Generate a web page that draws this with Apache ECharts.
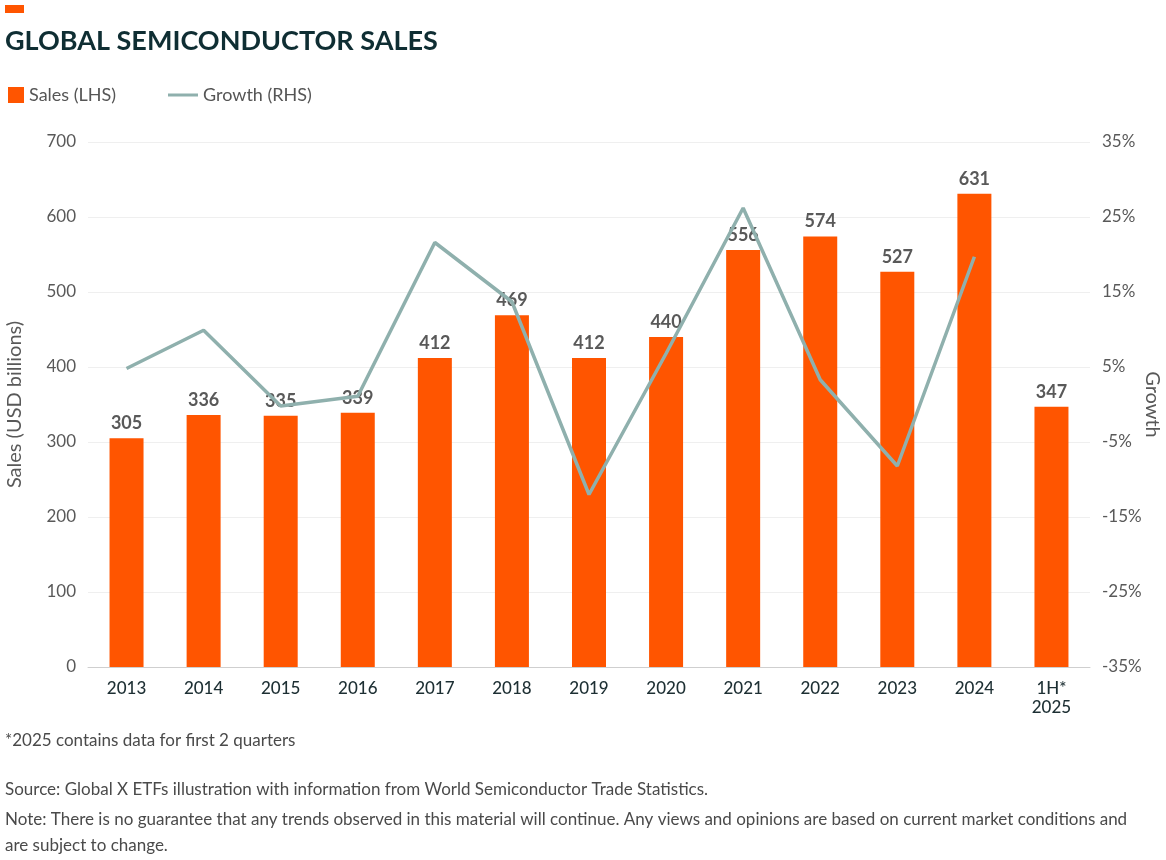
<!DOCTYPE html>
<html>
<head>
<meta charset="utf-8">
<script src="https://cdn.jsdelivr.net/npm/echarts@6/dist/echarts.min.js"></script>
<style>
html,body{margin:0;padding:0;background:#fff;}
#chart{width:1166px;height:860px;}
</style>
</head>
<body>
<div id="chart"></div>
<script>
const categories = ['2013','2014','2015','2016','2017','2018','2019','2020','2021','2022','2023','2024','1H*\n2025'];
const sales = [305, 336, 335, 339, 412, 469, 412, 440, 556, 574, 527, 631, 347];
const growth = [4.8, 9.9, -0.2, 1.1, 21.6, 13.7, -12.0, 6.8, 26.2, 3.3, -8.2, 19.7, null];
const salesTicks = [0, 100, 200, 300, 400, 500, 600, 700];
const growthTicks = [-35, -25, -15, -5, 5, 15, 25, 35];

const FONT = 'Lato, "Open Sans", sans-serif';
const chart = echarts.init(document.getElementById('chart'));
chart.setOption({
  animation: false,
  backgroundColor: '#fff',
  textStyle: { fontFamily: FONT },
  title: {
    text: 'GLOBAL SEMICONDUCTOR SALES',
    left: 0, top: 23,
    textStyle: { fontFamily: FONT, fontSize: 27, fontWeight: 'bold', color: '#0f2e33' }
  },
  graphic: [
    { type: 'rect', left: 5, top: 5, shape: { width: 19, height: 8 }, style: { fill: '#ff5500' } },
    { type: 'text', left: 5, top: 732, style: { text: '*2025 contains data for first 2 quarters', fill: '#4a4a4a', font: '17px ' + FONT } },
    { type: 'text', left: 5, top: 781, style: { text: 'Source: Global X ETFs illustration with information from World Semiconductor Trade Statistics.', fill: '#4a4a4a', font: '17px ' + FONT } },
    { type: 'text', left: 5, top: 807, style: { text: 'Note: There is no guarantee that any trends observed in this material will continue. Any views and opinions are based on current market conditions and\nare subject to change.', fill: '#4a4a4a', font: '17px ' + FONT, lineHeight: 26 } }
  ],
  legend: [
    {
      left: 3, top: 81,
      textStyle: { fontFamily: FONT, fontSize: 18, color: '#555' },
      data: [{ name: 'Sales (LHS)', icon: 'rect', itemStyle: { color: '#ff5500' } }],
      itemWidth: 16, itemHeight: 16, itemGap: 10
    },
    {
      left: 163, top: 81,
      textStyle: { fontFamily: FONT, fontSize: 18, color: '#555' },
      data: [{ name: 'Growth (RHS)', icon: 'rect', itemStyle: { color: '#8fb0ad' } }],
      itemWidth: 30, itemHeight: 3, itemGap: 10
    }
  ],
  grid: { left: 88, right: 76, top: 142, bottom: 193, outerBoundsMode: 'none', containLabel: false },
  xAxis: {
    type: 'category',
    data: categories,
    axisLine: { lineStyle: { color: '#cfcfcf', width: 1 } },
    axisTick: { show: false },
    axisLabel: { fontFamily: FONT, fontSize: 17, fontWeight: 500, color: '#1d2f33', margin: 12, lineHeight: 19 }
  },
  yAxis: [
    {
      type: 'value', min: 0, max: 700, interval: 100,
      name: 'Sales (USD billions)', nameLocation: 'middle', nameGap: 63, nameMoveOverlap: false,
      nameTextStyle: { fontFamily: FONT, fontSize: 20, color: '#595959' },
      axisLine: { show: false }, axisTick: { show: false },
      axisLabel: { fontFamily: FONT, fontSize: 17, color: '#595959', margin: 12 },
      splitLine: { lineStyle: { color: '#efefef', width: 1 } }
    },
    {
      type: 'value', min: growthTicks[0], max: growthTicks[growthTicks.length - 1], alignTicks: true,
      name: 'Growth', nameLocation: 'middle', nameGap: 62, nameRotate: -90, nameMoveOverlap: false,
      nameTextStyle: { fontFamily: FONT, fontSize: 20, color: '#595959', align: 'center', verticalAlign: 'middle' },
      axisLine: { show: false }, axisTick: { show: false },
      axisLabel: { fontFamily: FONT, fontSize: 17, color: '#595959', margin: 12, formatter: v => Math.round(v) + '%' },
      splitLine: { show: false }
    }
  ],
  series: [
    {
      name: 'Sales (LHS)', type: 'bar', yAxisIndex: 0, data: sales,
      barWidth: 34,
      itemStyle: { color: '#ff5500' },
      label: { show: true, position: 'top', distance: 6, fontFamily: FONT, fontSize: 18, fontWeight: 'bold', color: '#595959' }
    },
    {
      name: 'Growth (RHS)', type: 'line', yAxisIndex: 1, data: growth,
      symbol: 'none', z: 5,
      lineStyle: { color: '#8fb0ad', width: 3.5 },
      itemStyle: { color: '#8fb0ad' }
    }
  ]
});
</script>
</body>
</html>
